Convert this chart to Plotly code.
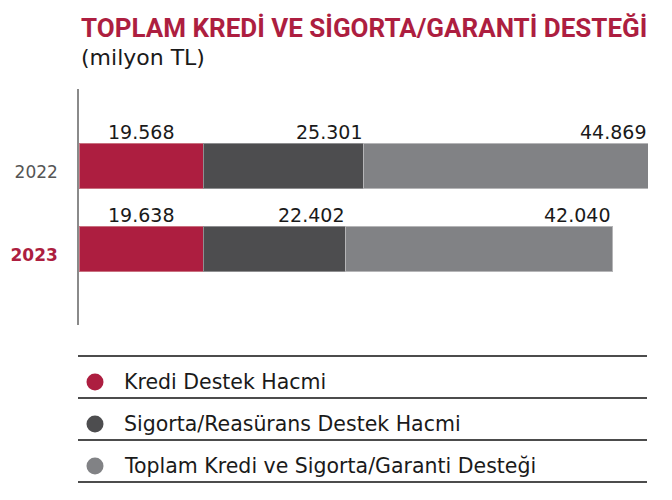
import plotly.graph_objects as go

# ---- data ----
categories = ["2022", "2023"]
kredi = [19568, 19638]
sigorta = [25301, 22402]
toplam = [44869, 42040]
series_names = [
    "Kredi Destek Hacmi",
    "Sigorta/Reasürans Destek Hacmi",
    "Toplam Kredi ve Sigorta/Garanti Desteği",
]
title_text = "TOPLAM KREDİ VE SİGORTA/GARANTİ DESTEĞİ"
subtitle_text = "(milyon TL)"

# ---- style ----
CRIMSON = "#AD1E40"
DARK = "#4D4D4F"
LIGHT = "#818285"
colors = [CRIMSON, DARK, LIGHT]
edge = ["#C9707F", "#8E8E90", "#B5B5B7"]
FONT = "DejaVu Sans"

W, H = 672, 500
OFF = 8  # page body margin
# plot area in screen pixels: x 79..648, y 89..325
SX0, SX1, SY0, SY1 = 79, 648, 89, 325
ML, MT = SX0 - OFF, SY0 - OFF
MR, MB = W - (SX1 - OFF), H - (SY1 - OFF)
PW = SX1 - SX0
PH = SY1 - SY0


def px_x(px):
    return (px - SX0) / PW


def px_y(py):
    return (SY1 - py) / PH


def fmt(v):
    return f"{v:,}".replace(",", ".")


fig = go.Figure()
for vals, name, c, e in zip([kredi, sigorta, toplam], series_names, colors, edge):
    fig.add_trace(go.Bar(
        y=categories, x=vals, orientation="h", name=name,
        marker=dict(color=c, line=dict(color=e, width=1)),
        width=0.554, showlegend=False, hoverinfo="x+name",
    ))

totals = [a + b + c for a, b, c in zip(kredi, sigorta, toplam)]
xmax = max(totals)

annotations = []
for i, cat in enumerate(categories):
    k, s, t = kredi[i], sigorta[i], toplam[i]
    for xv, val, anchor in [(k / 2, k, "center"), (k + s, s, "right"), (k + s + t, t, "right")]:
        annotations.append(dict(
            x=xv, y=i, xref="x", yref="y", text=fmt(val), showarrow=False,
            xanchor=anchor, yanchor="bottom", yshift=21,
            font=dict(family=FONT, size=19, color="#1a1a1a"),
        ))

# title & subtitle
annotations.append(dict(
    x=0, y=px_y(28), xref="paper", yref="paper", text=f"<b>{title_text}</b>",
    showarrow=False, xanchor="left", yanchor="middle",
    font=dict(family="Roboto", size=26, color=CRIMSON),
))
annotations.append(dict(
    x=0, y=px_y(58), xref="paper", yref="paper", text=subtitle_text,
    showarrow=False, xanchor="left", yanchor="middle",
    font=dict(family=FONT, size=22, color="#1a1a1a"),
))

# legend (manual)
shapes = []
line_ys = [356, 398, 440, 482]
for ly in line_ys:
    shapes.append(dict(type="line", xref="paper", yref="paper",
                       x0=px_x(78), x1=px_x(647), y0=px_y(ly), y1=px_y(ly),
                       line=dict(color="#111111", width=1.3)))
item_ys = [382, 424, 466]
for name, c, iy in zip(series_names, colors, item_ys):
    shapes.append(dict(type="circle", xref="paper", yref="paper",
                       xsizemode="pixel", ysizemode="pixel",
                       xanchor=px_x(95), yanchor=px_y(iy),
                       x0=-8.5, x1=8.5, y0=-8.5, y1=8.5,
                       fillcolor=c, line=dict(width=0)))
    annotations.append(dict(
        x=px_x(122), y=px_y(iy), xref="paper", yref="paper", text=name,
        showarrow=False, xanchor="left", yanchor="middle",
        font=dict(family=FONT, size=20.5, color="#1a1a1a"),
    ))

fig.update_layout(
    width=W, height=H, barmode="stack",
    margin=dict(l=ML, r=MR, t=MT, b=MB, pad=0, autoexpand=False),
    paper_bgcolor="white", plot_bgcolor="white",
    showlegend=False,
    annotations=annotations, shapes=shapes,
    xaxis=dict(range=[0, xmax], visible=False, showgrid=False, zeroline=False),
    yaxis=dict(
        type="category", automargin=False,
        range=[1.916, -0.928], showgrid=False, zeroline=False,
        showline=True, linecolor="#8a8a8a", linewidth=1.5,
        tickmode="array", tickvals=categories,
        ticktext=[f"<span style='color:#555555'>{categories[0]}</span>",
                  f"<span style='color:{CRIMSON}'><b>{categories[1]}</b></span>"],
        tickfont=dict(family=FONT, size=17, color="#555555"),
        ticks="", ticklabelstandoff=16, ticklabelshift=-6,
    ),
)

fig.write_html("out.html")
